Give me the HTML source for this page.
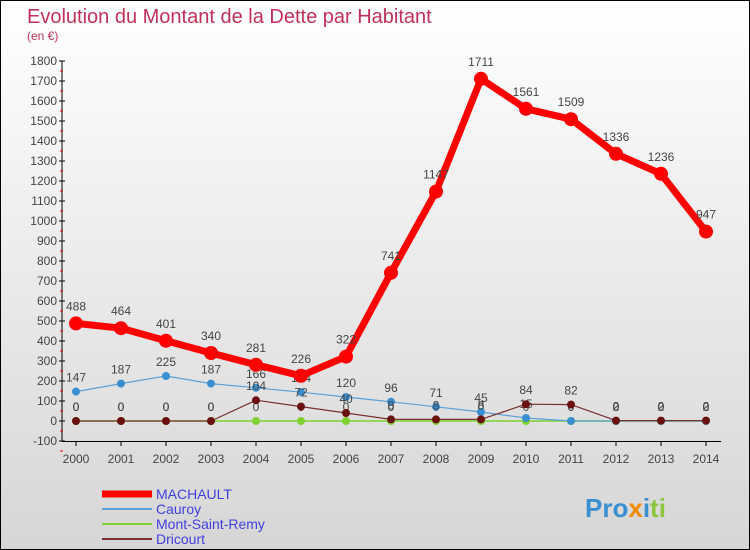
<!DOCTYPE html>
<html><head><meta charset="utf-8"><style>
body{margin:0}
#c{width:750px;height:550px;position:relative;box-sizing:border-box;border:1px solid #000;background:linear-gradient(#ffffff,#d6d6d6);font-family:"Liberation Sans",sans-serif;overflow:hidden}
</style></head><body>
<div id="c">
<svg id="s" width="750" height="550" style="position:absolute;left:0;top:0">
<text x="26" y="22" font-size="20" fill="#c0305a">Evolution du Montant de la Dette par Habitant</text>
<text x="26" y="39" font-size="12" fill="#c0305a">(en €)</text>
<g id="ax"></g><g id="ser"></g><g id="leg"></g>
<text x="584" y="516" font-size="26" font-weight="bold" fill="#3a8fd0">Pro<tspan fill="#f08a00">x</tspan><tspan fill="#3a8fd0">i</tspan><tspan fill="#8dc63f">ti</tspan></text>
</svg>
</div>
<script>
const years=[2000,2001,2002,2003,2004,2005,2006,2007,2008,2009,2010,2011,2012,2013,2014];
const yTicks=[-100,0,100,200,300,400,500,600,700,800,900,1000,1100,1200,1300,1400,1500,1600,1700,1800];
const machault=[488,464,401,340,281,226,322,741,1147,1711,1561,1509,1336,1236,947];
const cauroy=[147,187,225,187,166,144,120,96,71,45,15,0,0,0,0];
const montSaintRemy=[0,0,0,0,0,0,0,0,0,0,0,0,0,0,0];
const dricourt=[0,0,0,0,104,72,40,8,8,8,84,82,2,2,2];
const NS="http://www.w3.org/2000/svg";
const X=i=>75+i*45, Y=v=>420-v*0.2;
function mk(t,a,p){const e=document.createElementNS(NS,t);for(const k in a)e.setAttribute(k,a[k]);p.appendChild(e);return e;}
const ax=document.getElementById('ax');
let yl=mk('line',{x1:61,y1:Y(1800),x2:61,y2:Y(-100),stroke:'#000'},ax);


let xl=mk('line',{x1:61,y1:Y(-100)+0.5,x2:720,y2:Y(-100)+0.5,stroke:'#000'},ax);


yTicks.forEach(v=>{
 mk('line',{x1:58,y1:Y(v),x2:64,y2:Y(v),stroke:'#000'},ax);
 mk('line',{x1:59,y1:Y(v)+10,x2:62,y2:Y(v)+10,stroke:'#e00'},ax);
 const t=mk('text',{x:56,y:Y(v)+4,'font-size':12,'text-anchor':'end',fill:'#444'},ax);t.textContent=v;
 
 
});
years.forEach((y,i)=>{
 mk('line',{x1:X(i),y1:440,x2:X(i),y2:445,stroke:'#000'},ax);
 const t=mk('text',{x:X(i),y:462,'font-size':12,'text-anchor':'middle',fill:'#444'},ax);t.textContent=y;
 
 
});
const ser=document.getElementById('ser');
function draw(data,col,w,r,name,dot){
 const g=mk('g',{},ser);
 
 
 mk('polyline',{points:data.map((v,i)=>X(i)+','+Y(v)).join(' '),fill:'none',stroke:col,'stroke-width':w,'stroke-linejoin':'round'},g);
 data.forEach((v,i)=>{
  const c=mk('circle',{cx:X(i),cy:Y(v),r:r,fill:dot},g);
  
  
  const t=mk('text',{x:X(i),y:Y(v)-r-6,'font-size':12,'text-anchor':'middle',fill:'#444'},g);t.textContent=v;
  
  
 });
}
draw(montSaintRemy,'#7ed12f',1.5,4,'mont-saint-remy','#7ed12f');
draw(cauroy,'#5aa0d8',1.2,4,'cauroy','#3a8fd0');
draw(dricourt,'#7a3030',1.2,4,'dricourt','#6a1010');
draw(machault,'#ff0000',7,7,'machault','#ff0000');
const leg=document.getElementById('leg');
[['MACHAULT','#ff0000',7],['Cauroy','#5aa0d8',2],['Mont-Saint-Remy','#7ed12f',2],['Dricourt','#7a3030',2]].forEach((l,i)=>{
 const y=493+i*15;
 const ln=mk('line',{x1:101,y1:y,x2:151,y2:y,stroke:l[1],'stroke-width':l[2]},leg);
 
 
 const t=mk('text',{x:155,y:y+5,'font-size':14,fill:'#4040e0'},leg);t.textContent=l[0];
 
 
});
</script>
</body></html>
